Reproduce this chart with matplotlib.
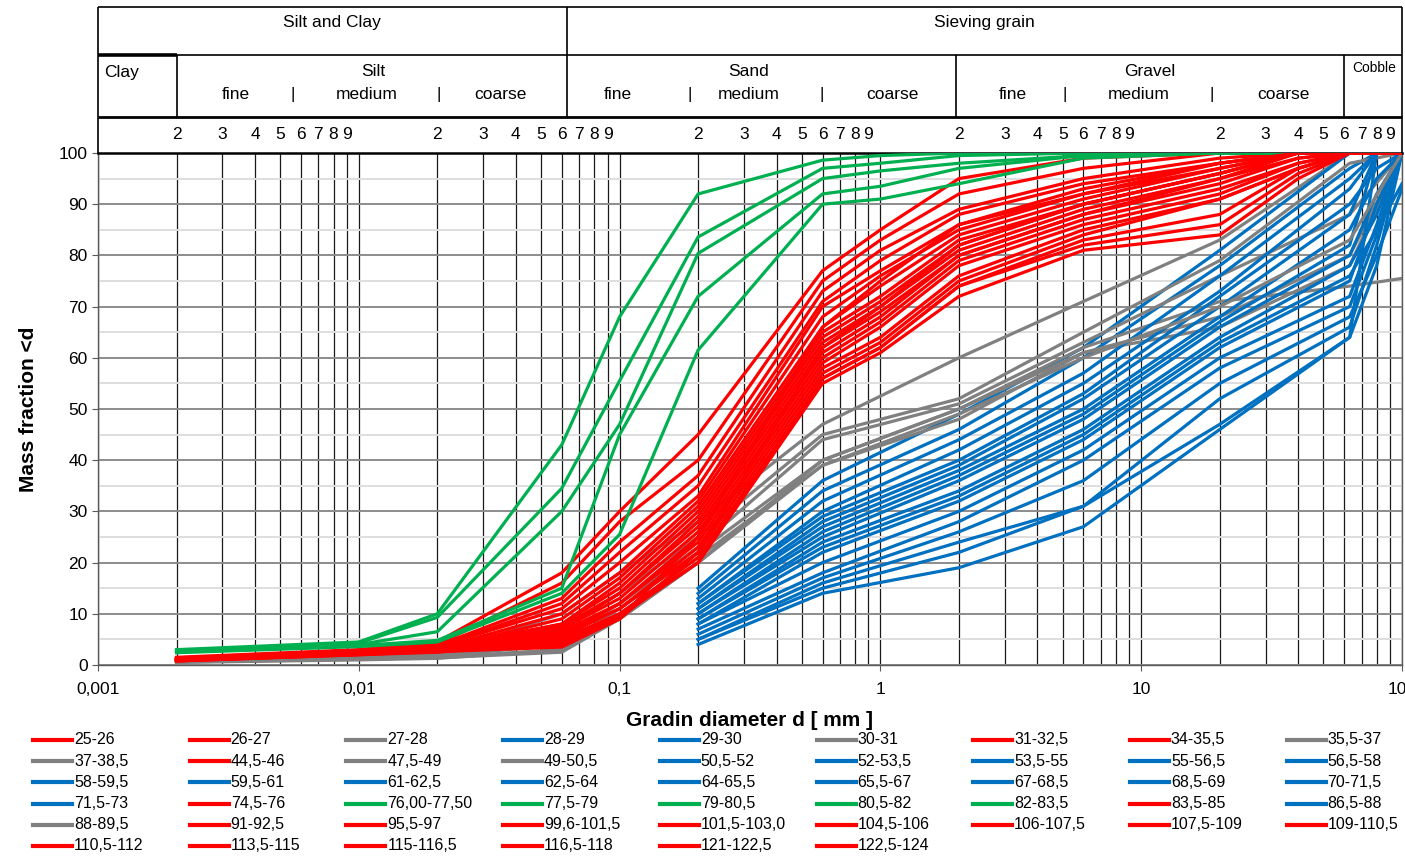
import matplotlib.pyplot as plt
from matplotlib.lines import Line2D
from matplotlib.ticker import MultipleLocator, LogLocator, FixedLocator, NullFormatter

plt.rcParams['font.family'] = ['Liberation Sans', 'DejaVu Sans']

# grain diameters [mm] of the measured points
d_fine = [0.002, 0.01, 0.02, 0.06, 0.1, 0.2, 0.6, 1, 2, 6, 20, 40, 63, 100]
d_gray = [0.002, 0.01, 0.02, 0.06, 0.1, 0.2, 0.6, 2, 6, 20, 63, 100]
d_coarse = [0.2, 0.6, 2, 6, 20, 63, 80, 100]

red_labels = ['25-26', '26-27', '31-32,5', '34-35,5', '44,5-46', '74,5-76', '83,5-85',
              '91-92,5', '95,5-97', '99,6-101,5', '101,5-103,0', '104,5-106', '106-107,5',
              '107,5-109', '109-110,5', '110,5-112', '113,5-115', '115-116,5', '116,5-118',
              '121-122,5', '122,5-124']
red_values = [
    [1.5, 3.0, 4.5, 18, 30, 45, 77, 85, 95, 99, 100, 100, 100, 100],
    [1.2, 2.8, 4.0, 16, 28, 40, 75, 83, 92, 97, 100, 100, 100, 100],
    [1.4, 2.7, 3.8, 13, 24, 37, 73, 81, 89, 95, 99, 100, 100, 100],
    [1.0, 2.5, 3.5, 12, 22, 35, 71, 79, 88, 94, 98, 100, 100, 100],
    [1.3, 2.6, 3.6, 11, 20, 33, 70, 77, 86, 93, 98, 100, 100, 100],
    [1.1, 2.4, 3.2, 10, 18, 32, 68, 76, 85, 92, 97, 100, 100, 100],
    [0.9, 2.3, 3.0, 9, 17, 31, 66, 74, 84, 91, 97, 100, 100, 100],
    [1.2, 2.5, 3.4, 8, 16, 30, 65, 72, 83, 90, 96, 100, 100, 100],
    [1.0, 2.2, 3.0, 8, 15, 29, 64, 71, 82, 90, 96, 100, 100, 100],
    [0.8, 2.1, 2.8, 7.5, 14, 28, 63, 70, 81, 89, 95, 99, 100, 100],
    [1.1, 2.4, 3.1, 7, 14, 27, 62, 69, 80, 88, 94, 99, 100, 100],
    [0.9, 2.2, 2.9, 7, 13, 26, 61, 68, 80, 88, 95, 100, 100, 100],
    [1.0, 2.3, 3.0, 6.5, 12, 25, 60, 67, 79, 87, 93, 98, 100, 100],
    [1.2, 2.5, 3.3, 6, 12, 24, 59, 66, 78, 86, 92, 98, 100, 100],
    [0.8, 2.0, 2.7, 6, 11, 23, 58, 64, 76, 85, 91, 97, 100, 100],
    [1.0, 2.2, 2.8, 5.5, 11, 22, 57, 63, 75, 84, 91, 97, 100, 100],
    [0.9, 2.1, 2.6, 5, 10, 21, 56, 62, 74, 82, 86, 96, 100, 100],
    [1.1, 2.3, 2.9, 5, 10, 20, 55, 61, 72, 81, 84, 95, 100, 100],
    [0.8, 2.0, 2.5, 4.5, 9.5, 20, 56, 62, 74, 83, 88, 97, 100, 100],
    [1.0, 2.1, 2.7, 4, 9, 22, 62, 70, 82, 90, 96, 100, 100, 100],
    [0.9, 2.2, 2.6, 3.5, 9, 25, 66, 75, 86, 92, 98, 100, 100, 100],
]

green_labels = ['76,00-77,50', '77,5-79', '79-80,5', '80,5-82', '82-83,5']
green_values = [
    [3.0, 4.5, 10.0, 43, 68, 92, 98.6, 99.5, 100, 100, 100, 100, 100, 100],
    [2.8, 4.3, 9.3, 34.5, 55.5, 83.6, 97, 98, 99.5, 100, 100, 100, 100, 100],
    [2.6, 4.0, 6.5, 30, 47, 80.4, 95, 96.5, 98, 99.5, 100, 100, 100, 100],
    [2.5, 3.8, 4.8, 15, 45, 72, 92, 93.5, 97, 99.5, 100, 100, 100, 100],
    [2.4, 3.6, 4.5, 14, 25.5, 61.5, 90, 91, 94, 99, 100, 100, 100, 100],
]

gray_labels = ['27-28', '30-31', '35,5-37', '37-38,5', '47,5-49', '49-50,5', '88-89,5']
gray_values = [
    [0.8, 1.5, 2.0, 10, 18, 28, 47, 60, 71, 83, 100, 100],
    [0.7, 1.3, 1.8, 7, 14, 25, 45, 52, 65, 79, 98, 100],
    [0.6, 1.2, 1.6, 5, 12, 23, 44, 51, 63, 76, 88, 100],
    [0.8, 1.4, 1.7, 4, 11, 22, 40, 50, 62, 71, 74, 75.5],
    [0.5, 1.0, 1.3, 3, 10, 21, 39, 48, 61, 68, 80, 100],
    [0.6, 1.1, 1.5, 3, 9, 20, 40, 50, 61, 66, 78, 100],
    [0.7, 1.2, 1.4, 2.5, 9, 20, 39, 49, 60, 70, 83, 100],
]

blue_labels = ['28-29', '29-30', '50,5-52', '52-53,5', '53,5-55', '55-56,5', '56,5-58',
               '58-59,5', '59,5-61', '61-62,5', '62,5-64', '64-65,5', '65,5-67', '67-68,5',
               '68,5-69', '70-71,5', '71,5-73', '86,5-88']
blue_values = [
    [15, 36, 49, 62, 81, 100, 100, 100],
    [14, 34, 46, 60, 78, 97, 100, 100],
    [13, 32, 44, 57, 76, 95, 100, 100],
    [12, 30, 42, 55, 73, 93, 100, 100],
    [12, 29, 40, 53, 72, 90, 97, 100],
    [11, 28, 39, 52, 70, 88, 100, 100],
    [11, 27, 38, 50, 68, 85, 95, 100],
    [10, 26, 37, 49, 67, 82, 100, 100],
    [10, 25, 36, 48, 66, 80, 92, 100],
    [9, 24, 34, 46, 64, 78, 88, 100],
    [9, 23, 33, 45, 63, 76, 85, 94],
    [8, 22, 32, 44, 62, 75, 90, 100],
    [8, 20, 30, 42, 60, 72, 86, 100],
    [7, 18, 28, 40, 58, 70, 84, 100],
    [6, 17, 26, 36, 55, 68, 80, 93],
    [5, 16, 24, 31, 52, 66, 82, 100],
    [5, 15, 22, 31, 47, 64, 100, 100],
    [4, 14, 19, 27, 46, 64, 78, 100],
]

# legend order, read row by row
legend_order = [
    '25-26', '26-27', '27-28', '28-29', '29-30', '30-31', '31-32,5', '34-35,5', '35,5-37',
    '37-38,5', '44,5-46', '47,5-49', '49-50,5', '50,5-52', '52-53,5', '53,5-55', '55-56,5', '56,5-58',
    '58-59,5', '59,5-61', '61-62,5', '62,5-64', '64-65,5', '65,5-67', '67-68,5', '68,5-69', '70-71,5',
    '71,5-73', '74,5-76', '76,00-77,50', '77,5-79', '79-80,5', '80,5-82', '82-83,5', '83,5-85', '86,5-88',
    '88-89,5', '91-92,5', '95,5-97', '99,6-101,5', '101,5-103,0', '104,5-106', '106-107,5', '107,5-109', '109-110,5',
    '110,5-112', '113,5-115', '115-116,5', '116,5-118', '121-122,5', '122,5-124',
]

RED, GREEN, GRAY, BLUE = '#ff0000', '#00b050', '#808080', '#0070c0'

series = {}
for lab, v in zip(red_labels, red_values):
    series[lab] = (d_fine, v, RED)
for lab, v in zip(green_labels, green_values):
    series[lab] = (d_fine, v, GREEN)
for lab, v in zip(gray_labels, gray_values):
    series[lab] = (d_gray, v, GRAY)
for lab, v in zip(blue_labels, blue_values):
    series[lab] = (d_coarse, v, BLUE)

W, H = 1405, 857
fig = plt.figure(figsize=(W / 100, H / 100), dpi=100)
ax = fig.add_axes([98 / W, 1 - 665 / H, 1304 / W, 512 / H])
hax = fig.add_axes([98 / W, 1 - 153 / H, 1304 / W, 146 / H])

for lab in legend_order:
    x, y, c = series[lab]
    ax.plot(x, y, color=c, lw=2.3, zorder=3)

ax.set_xscale('log')
ax.set_xlim(0.001, 100)
ax.set_ylim(0, 100)
ax.xaxis.set_major_locator(FixedLocator([0.001, 0.01, 0.1, 1, 10, 100]))
ax.xaxis.set_minor_locator(LogLocator(base=10, subs=range(2, 10)))
ax.xaxis.set_minor_formatter(NullFormatter())
ax.set_xticklabels(['0,001', '0,01', '0,1', '1', '10', '100'])
ax.yaxis.set_major_locator(MultipleLocator(10))
ax.yaxis.set_minor_locator(MultipleLocator(5))
ax.tick_params(axis='both', which='major', labelsize=12.5, length=4, color='#595959')
ax.tick_params(axis='both', which='minor', length=0)
ax.tick_params(axis='x', which='major', pad=8)

ax.xaxis.grid(True, which='both', color='#1a1a1a', lw=0.9)
ax.yaxis.grid(True, which='major', color='#8c8c8c', lw=1.4)
ax.yaxis.grid(True, which='minor', color='#dedede', lw=1.4)
ax.set_axisbelow(True)
for s in ['left', 'bottom', 'right']:
    ax.spines[s].set_color('#595959')
    ax.spines[s].set_linewidth(1.0)
ax.spines['top'].set_color('black')
ax.spines['top'].set_linewidth(1.8)

ax.set_xlabel('Gradin diameter d [ mm ]', fontsize=15, fontweight='bold', labelpad=10)
ax.set_ylabel('Mass fraction <d', fontsize=15, fontweight='bold', labelpad=15)

# classification header
hax.set_xscale('log')
hax.set_xlim(0.001, 100)
hax.set_ylim(0, 146)
hax.axis('off')


def hline(x0, x1, y, lw=1.0):
    hax.plot([x0, x1], [y, y], color='black', lw=lw, clip_on=False, solid_capstyle='butt')


def vline(x, y0, y1, lw=1.0):
    hax.plot([x, x], [y0, y1], color='black', lw=lw, clip_on=False, solid_capstyle='butt')


hline(0.001, 100, 146, 1.2)
hline(0.001, 100, 98, 1.2)
hline(0.001, 0.002, 98, 2.6)
hline(0.001, 100, 36, 2.0)
vline(0.001, 0, 146, 1.2)
vline(100, 0, 146, 1.2)
vline(0.063, 36, 146, 1.2)
for xb in [0.002, 1.95, 60]:
    vline(xb, 36, 98, 1.2)

fs = 12.5
hax.text(0.0079, 130, 'Silt and Clay', ha='center', va='center', fontsize=fs)
hax.text(2.5, 130, 'Sieving grain', ha='center', va='center', fontsize=fs)
hax.text(0.00106, 81, 'Clay', ha='left', va='center', fontsize=fs)

top_words = [(0.0114, 'Silt'), (0.313, 'Sand'), (10.8, 'Gravel')]
for xw, w in top_words:
    hax.text(xw, 81, w, ha='center', va='center', fontsize=fs)
sub_words = [(0.00338, 'fine'), (0.0056, '|'), (0.01075, 'medium'), (0.0203, '|'), (0.0348, 'coarse'),
             (0.0986, 'fine'), (0.186, '|'), (0.313, 'medium'), (0.597, '|'), (1.117, 'coarse'),
             (3.22, 'fine'), (5.1, '|'), (9.8, 'medium'), (18.7, '|'), (35.0, 'coarse')]
for xw, w in sub_words:
    hax.text(xw, 58, w, ha='center', va='center', fontsize=fs)
hax.text(78, 85, 'Cobble', ha='center', va='center', fontsize=10)

for k in range(-3, 2):
    for n in range(2, 10):
        hax.text(n * 10.0 ** k, 18, str(n), ha='center', va='center', fontsize=fs)

# legend drawn row by row like the original
for i, lab in enumerate(legend_order):
    r, c = divmod(i, 9)
    x0 = (33 + c * 156.7) / W
    yc = 1 - (740 + r * 21.2) / H
    fig.add_artist(Line2D([x0, x0 + 39 / W], [yc, yc], transform=fig.transFigure,
                          color=series[lab][2], lw=3.0))
    fig.text(x0 + 41 / W, yc, lab, ha='left', va='center', fontsize=11.5,
             family=['Liberation Sans Narrow', 'Liberation Sans', 'DejaVu Sans'])

fig.savefig('out.png', dpi=100)
